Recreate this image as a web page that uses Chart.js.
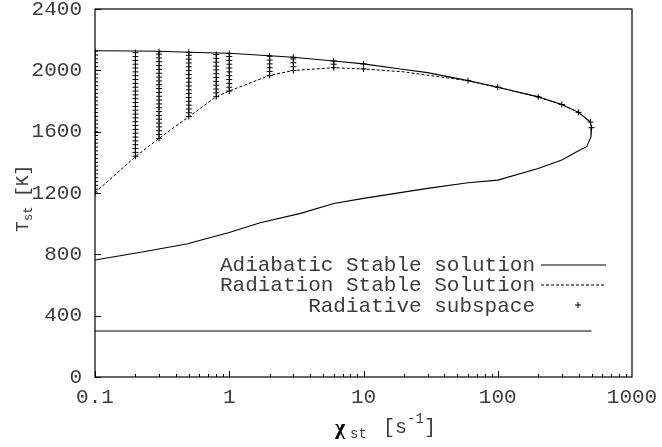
<!DOCTYPE html>
<html><head><meta charset="utf-8">
<script src="https://cdn.jsdelivr.net/npm/chart.js@4.4.1/dist/chart.umd.min.js"></script>
<style>html,body{margin:0;padding:0;background:#fff}#wrap{width:662px;height:447px}</style>
</head><body><div id="wrap"><canvas id="c" width="662" height="447"></canvas></div>
<script>
const xTickLabels = [0.1, 1, 10, 100, 1000];
const yTickLabels = [0, 400, 800, 1200, 1600, 2000, 2400];

// Adiabatic stable solution (upper branch left->right, then lower branch right->left)
const adiabaticChi = [0.1, 0.2, 0.3, 0.5, 0.8, 1, 2, 3, 6, 10, 20, 30, 60, 100, 200, 300, 400, 490, 500,
                      495, 460, 400, 300, 200, 100, 60, 30, 10, 6, 3.4, 1.7, 1, 0.48, 0.23, 0.1];
const adiabaticT   = [2128, 2126, 2124, 2118, 2113, 2111, 2095, 2085, 2061, 2042, 2005, 1985, 1933, 1890, 1827, 1777, 1726, 1663, 1626,
                      1567, 1502, 1476, 1415, 1360, 1284, 1267, 1230, 1165, 1132, 1067, 1006, 943, 867, 817, 763];
// cold (non-burning) branch
const coldChi = [0.1, 500];
const coldT   = [300, 300];

// Radiation stable solution
const radiationChi = [0.1, 0.2, 0.3, 0.5, 0.8, 1, 2, 3, 6, 10, 20, 30, 60, 100, 200, 300, 400, 490, 500];
const radiationT   = [1202, 1437, 1556, 1698, 1828, 1865, 1967, 1999, 2017, 2009, 1990, 1968, 1933, 1890, 1827, 1777, 1726, 1663, 1626];

// Radiative subspace samples (one column per chi value)
const subspaceChi = [0.1, 0.2, 0.3, 0.5, 0.8, 1, 2, 3, 6, 10, 60, 100, 200, 300, 400, 490, 500];
const subspaceT = [
  [1200,1225,1250,1275,1300,1325,1350,1375,1400,1425,1450,1475,1500,1525,1550,1575,1600,1625,1650,1675,1700,1725,1750,1775,1800,1825,1850,1875,1900,1925,1950,1975,2000,2025,2050,2075,2100,2125],
  [1440,1465,1490,1515,1540,1565,1590,1615,1640,1665,1690,1715,1740,1765,1790,1815,1840,1865,1890,1915,1940,1965,1990,2015,2040,2065,2090,2115],
  [1556,1581,1606,1631,1656,1681,1706,1731,1756,1781,1806,1831,1856,1881,1906,1931,1956,1981,2006,2031,2056,2081,2106,2122],
  [1698,1723,1748,1773,1798,1823,1848,1873,1898,1923,1948,1973,1998,2023,2048,2073,2098,2118],
  [1828,1853,1878,1903,1928,1953,1978,2003,2028,2053,2078,2103],
  [1865,1890,1915,1940,1965,1990,2015,2040,2065,2090,2110],
  [1967,1992,2017,2042,2067,2092],
  [1999,2024,2049,2074,2085],
  [2017,2040,2061],
  [2009,2042],
  [1933],
  [1890],
  [1827],
  [1777],
  [1726],
  [1663],
  [1626]
];

const legendLabels = ['Adiabatic Stable solution', 'Radiation Stable Solution', 'Radiative subspace'];

const pts = (xs, ys) => xs.map((v, i) => ({x: v, y: ys[i]}));
const subspacePts = subspaceChi.flatMap((c, i) => subspaceT[i].map(t => ({x: c, y: t})));

const MONO = '"Liberation Mono", "DejaVu Sans Mono", monospace';
const TXT = '#3c3c3c';

const deco = {
  id: 'deco',
  afterDraw(chart) {
    const {ctx, chartArea: a, scales: {x, y}} = chart;
    ctx.save();
    ctx.strokeStyle = '#000';
    ctx.lineWidth = 1.2;
    ctx.strokeRect(a.left, a.top, a.right - a.left, a.bottom - a.top);
    // inward ticks
    ctx.lineWidth = 1;
    ctx.beginPath();
    for (let d = -1; d < 3; d++) {
      for (let m = 1; m < 10; m++) {
        const px = Math.round(x.getPixelForValue(m * Math.pow(10, d))) + 0.5;
        const len = m === 1 ? 6 : 3;
        ctx.moveTo(px, a.bottom); ctx.lineTo(px, a.bottom - len);
      }
    }
    yTickLabels.forEach(v => {
      const py = Math.round(y.getPixelForValue(v)) + 0.5;
      ctx.moveTo(a.left, py); ctx.lineTo(a.left + 6, py);
    });
    ctx.stroke();

    // legend
    ctx.fillStyle = TXT;
    ctx.font = '21px ' + MONO;
    ctx.textAlign = 'right';
    ctx.textBaseline = 'middle';
    const ly = [265, 285, 306];
    legendLabels.forEach((t, i) => ctx.fillText(t, 535, ly[i]));
    ctx.strokeStyle = '#000';
    ctx.lineWidth = 1.1;
    ctx.beginPath(); ctx.moveTo(541, ly[0]); ctx.lineTo(606, ly[0]); ctx.stroke();
    ctx.setLineDash([3, 2]);
    ctx.beginPath(); ctx.moveTo(541, ly[1]); ctx.lineTo(606, ly[1]); ctx.stroke();
    ctx.setLineDash([]);
    ctx.lineWidth = 1;
    ctx.beginPath();
    ctx.moveTo(575, ly[2] - 1); ctx.lineTo(581, ly[2] - 1);
    ctx.moveTo(578, ly[2] - 4); ctx.lineTo(578, ly[2] + 2);
    ctx.stroke();

    // x title: chi_st [s^-1]
    ctx.textAlign = 'left';
    ctx.textBaseline = 'alphabetic';
    ctx.font = 'bold 22px "Liberation Serif", "DejaVu Serif", serif';
    ctx.fillStyle = '#000';
    ctx.fillText('χ', 335, 434);
    ctx.fillStyle = TXT;
    ctx.font = '14px ' + MONO;
    ctx.fillText('st', 350, 438);
    ctx.font = '20px ' + MONO;
    ctx.fillText('[s', 383, 433);
    ctx.font = '14px ' + MONO;
    ctx.fillText('-1', 407, 423);
    ctx.font = '20px ' + MONO;
    ctx.fillText(']', 424, 433);

    // y title: T_st [K] rotated
    ctx.save();
    ctx.translate(28, 232);
    ctx.rotate(-Math.PI / 2);
    ctx.font = '18px ' + MONO;
    ctx.fillText('T', 0, 0);
    ctx.font = '12px ' + MONO;
    ctx.fillText('st', 11, 4);
    ctx.font = '18px ' + MONO;
    ctx.fillText('[K]', 35, 0);
    ctx.restore();

    ctx.restore();
  }
};

new Chart(document.getElementById('c'), {
  type: 'scatter',
  data: {
    datasets: [
      {label: legendLabels[0], data: pts(adiabaticChi, adiabaticT), showLine: true, borderColor: '#000', borderWidth: 1.1, pointRadius: 0, tension: 0, fill: false},
      {label: legendLabels[0] + ' (cold)', data: pts(coldChi, coldT), showLine: true, borderColor: '#000', borderWidth: 1.1, pointRadius: 0, tension: 0, fill: false},
      {label: legendLabels[1], data: pts(radiationChi, radiationT), showLine: true, borderColor: '#000', borderWidth: 1, borderDash: [3, 2], pointRadius: 0, tension: 0, fill: false},
      {label: legendLabels[2], data: subspacePts, showLine: false, pointStyle: 'cross', pointRadius: 3, borderColor: '#000', backgroundColor: '#000', borderWidth: 1}
    ]
  },
  options: {
    responsive: false,
    animation: false,
    layout: {padding: {left: 0, right: 30, top: 9, bottom: 0}},
    plugins: {legend: {display: false}, tooltip: {enabled: false}},
    scales: {
      x: {
        type: 'logarithmic', min: 0.1, max: 1000, position: 'bottom',
        grid: {display: false, drawTicks: false},
        border: {display: false},
        afterBuildTicks: s => { s.ticks = xTickLabels.map(v => ({value: v})); },
        afterFit: s => { s.height = 70; s.paddingLeft = 0; s.paddingRight = 0; },
        ticks: {
          autoSkip: false, maxRotation: 0, padding: 8, color: TXT,
          font: {family: MONO, size: 21},
          callback: v => String(v)
        }
      },
      y: {
        type: 'linear', min: 0, max: 2400,
        grid: {display: false, drawTicks: false},
        border: {display: false},
        afterBuildTicks: s => { s.ticks = yTickLabels.map(v => ({value: v})); },
        afterFit: s => { s.width = 95; s.paddingTop = 0; s.paddingBottom = 0; },
        ticks: {padding: 13, color: TXT, font: {family: MONO, size: 21}, callback: v => String(v)}
      }
    }
  },
  plugins: [deco]
});
</script>
</body></html>
